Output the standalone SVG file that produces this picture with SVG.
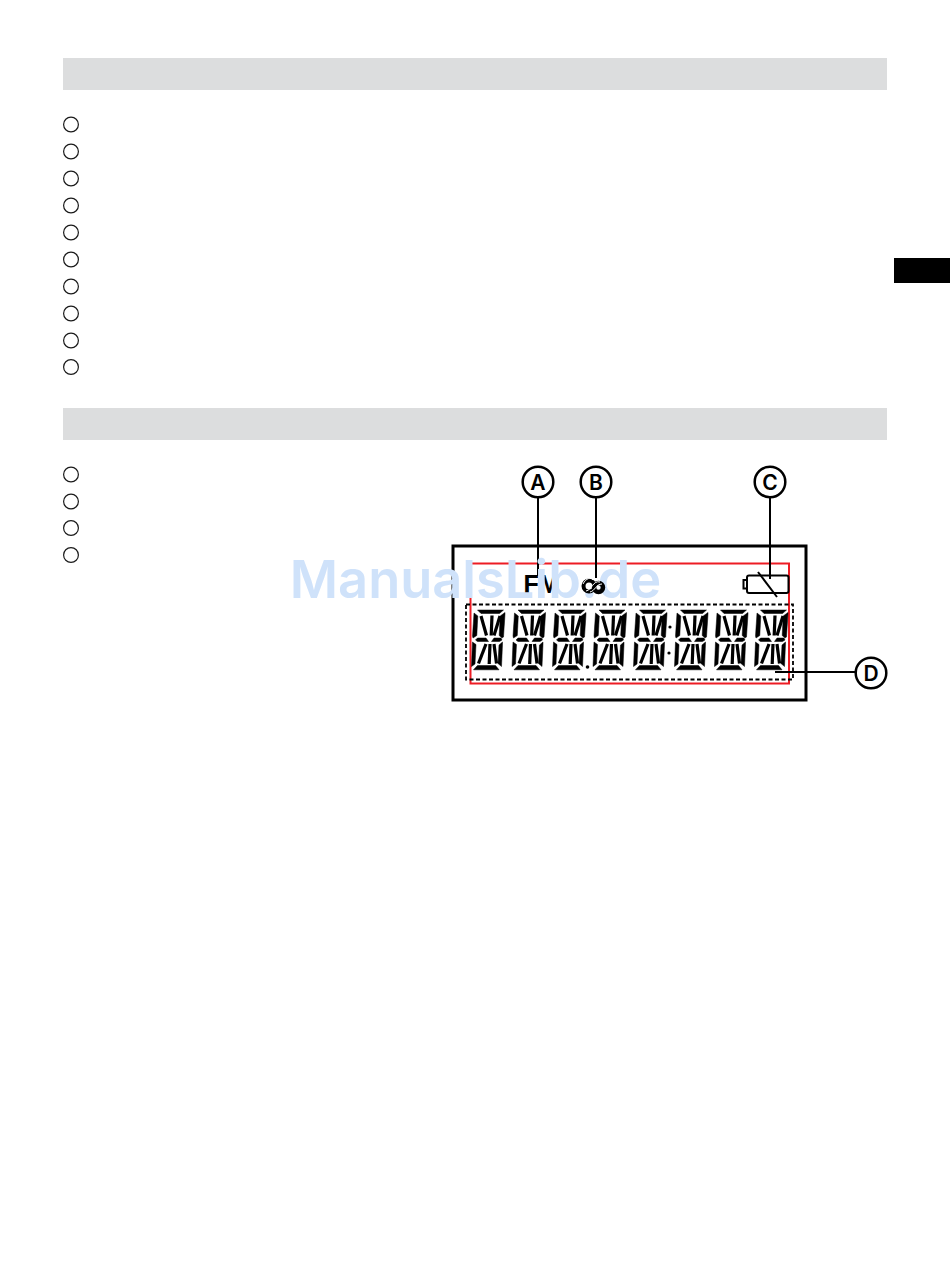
<svg xmlns="http://www.w3.org/2000/svg" xmlns:xlink="http://www.w3.org/1999/xlink" width="950" height="1267" viewBox="0 0 950 1267">
<style>
.bar{fill:#dcddde}
.bul{fill:#fff;stroke:#1a1a1a;stroke-width:1.2}
.call{fill:#fff;stroke:#000;stroke-width:2.5}
.lt{font-family:"Inter","Liberation Sans",sans-serif;font-weight:600;font-size:21px;text-anchor:middle;fill:#000}
.cn{stroke:#000;stroke-width:2;fill:none}
.seg{fill:#000;stroke:#000;stroke-width:.5;stroke-linejoin:round}
.sl{stroke:#000;stroke-width:3.200;fill:none}
</style>
<defs>
<circle id="b" r="7.4" class="bul"/>
<g id="dg" class="seg">
<polygon points="477.500,610 503.500,610 499.500,613.500 481,613.500"/>
<polygon points="477.500,665.500 495.500,665.500 499,669.800 473.500,669.800"/>
<polygon points="474,613 477.800,616 476.800,635.500 473,638 472.500,636"/>
<polygon points="505,612.500 505,614 503.500,637 502,638 499.200,635.500 500.200,616"/>
<polygon points="472.500,642 476,644.500 475,664 471.500,666.500"/>
<polygon points="502.500,642 502.500,644 501.500,666.500 498,663.500 499,645"/>
<polygon points="477.500,638 486,638 488.500,641.500 477.500,641.500 475.500,640"/>
<polygon points="494,638 501,638 502,640 499.500,641.500 491.500,641.500"/>
<line class="sl" x1="492" y1="615.500" x2="491.200" y2="635.500"/>
<line class="sl" x1="490" y1="644" x2="489.200" y2="664"/>
<line class="sl" x1="481" y1="616" x2="486.500" y2="635.500"/>
<line class="sl" x1="500" y1="616" x2="494" y2="635.500"/>
<line class="sl" x1="486" y1="644" x2="478.500" y2="663.500"/>
<line class="sl" x1="494" y1="644" x2="496.500" y2="663.500"/>
</g>
</defs>
<rect width="950" height="1267" fill="#fff"/>
<rect id="tab" x="894" y="258" width="56" height="25" fill="#000"/>
<rect id="header1" class="bar" x="63" y="58" width="824" height="32"/>
<rect id="header2" class="bar" x="63" y="408" width="824" height="32"/>
<g id="bullets1">
<use xlink:href="#b" href="#b" x="71" y="124.500"/>
<use xlink:href="#b" href="#b" x="71" y="151.500"/>
<use xlink:href="#b" href="#b" x="71" y="178.500"/>
<use xlink:href="#b" href="#b" x="71" y="205.500"/>
<use xlink:href="#b" href="#b" x="71" y="232.500"/>
<use xlink:href="#b" href="#b" x="71" y="259.500"/>
<use xlink:href="#b" href="#b" x="71" y="286.500"/>
<use xlink:href="#b" href="#b" x="71" y="313.500"/>
<use xlink:href="#b" href="#b" x="71" y="340.500"/>
<use xlink:href="#b" href="#b" x="71" y="367"/>
</g>
<g id="bullets2">
<use xlink:href="#b" href="#b" x="71" y="474.500"/>
<use xlink:href="#b" href="#b" x="71" y="501.500"/>
<use xlink:href="#b" href="#b" x="71" y="528"/>
<use xlink:href="#b" href="#b" x="71" y="555"/>
</g>
<g id="display">
<rect x="453" y="546" width="353" height="154" fill="none" stroke="#000" stroke-width="3"/>
<text x="523.500" y="593" style="font-family:'Liberation Sans',sans-serif;font-weight:700;font-size:25px">FM</text>
<rect x="470.500" y="563.500" width="318.500" height="120" fill="none" stroke="#ed1c24" stroke-width="2"/>
<g id="battery" fill="none" stroke="#000" stroke-width="2">
<rect x="747" y="575.500" width="41.500" height="17.500" rx="2"/>
<rect x="743.500" y="580" width="3.500" height="8.500"/>
<line x1="758" y1="572" x2="777" y2="597"/>
</g>
<g id="digits">
<use xlink:href="#dg" href="#dg"/>
<use xlink:href="#dg" href="#dg" x="40.500"/>
<use xlink:href="#dg" href="#dg" x="81"/>
<use xlink:href="#dg" href="#dg" x="121.500"/>
<use xlink:href="#dg" href="#dg" x="162"/>
<use xlink:href="#dg" href="#dg" x="203"/>
<use xlink:href="#dg" href="#dg" x="243"/>
<use xlink:href="#dg" href="#dg" x="283"/>
<circle cx="587.500" cy="667" r="1.800"/>
<circle cx="670" cy="627" r="1.600"/>
<circle cx="669" cy="653" r="1.600"/>
</g>
<rect x="466" y="604.500" width="327" height="75" fill="none" stroke="#000" stroke-width="1.800" stroke-dasharray="4 2.500"/>
</g>
<g id="connectors" class="cn">
<line x1="538" y1="497" x2="538" y2="576"/>
<line x1="596" y1="497" x2="596" y2="578"/>
<line x1="770" y1="497" x2="770" y2="579"/>
<line x1="775" y1="672" x2="856" y2="672"/>
</g>
<text id="watermark" x="475.500" y="598" text-anchor="middle" style="font-family:'Inter','Liberation Sans',sans-serif;font-weight:600;font-size:52.400px" fill="#cfe2fa">ManualsLib.de</text>
<g id="icon-b" fill="none">
<circle cx="589" cy="586" r="5.500" stroke="#000" stroke-width="4"/>
<circle cx="598.500" cy="587.500" r="4.500" stroke="#000" stroke-width="4.500"/>
<path d="M583 584c3-6 8-7 10-4M586 591c6-1 7-11 14-9M590 592c5-1 6-8 12-8" stroke="#fff" stroke-width="1"/>
<line x1="596" y1="575" x2="596" y2="578" stroke="#000" stroke-width="2"/>
</g>
<g id="A"><circle class="call" cx="538" cy="482" r="15.300"/><text class="lt" x="538" y="489.500">A</text></g>
<g id="B"><circle class="call" cx="596" cy="482" r="15.300"/><text class="lt" x="596" y="489.500">B</text></g>
<g id="C"><circle class="call" cx="770" cy="482" r="15.300"/><text class="lt" x="770" y="489.500">C</text></g>
<g id="D"><circle class="call" cx="871" cy="673" r="15.300"/><text class="lt" x="871" y="680.500">D</text></g>
</svg>
